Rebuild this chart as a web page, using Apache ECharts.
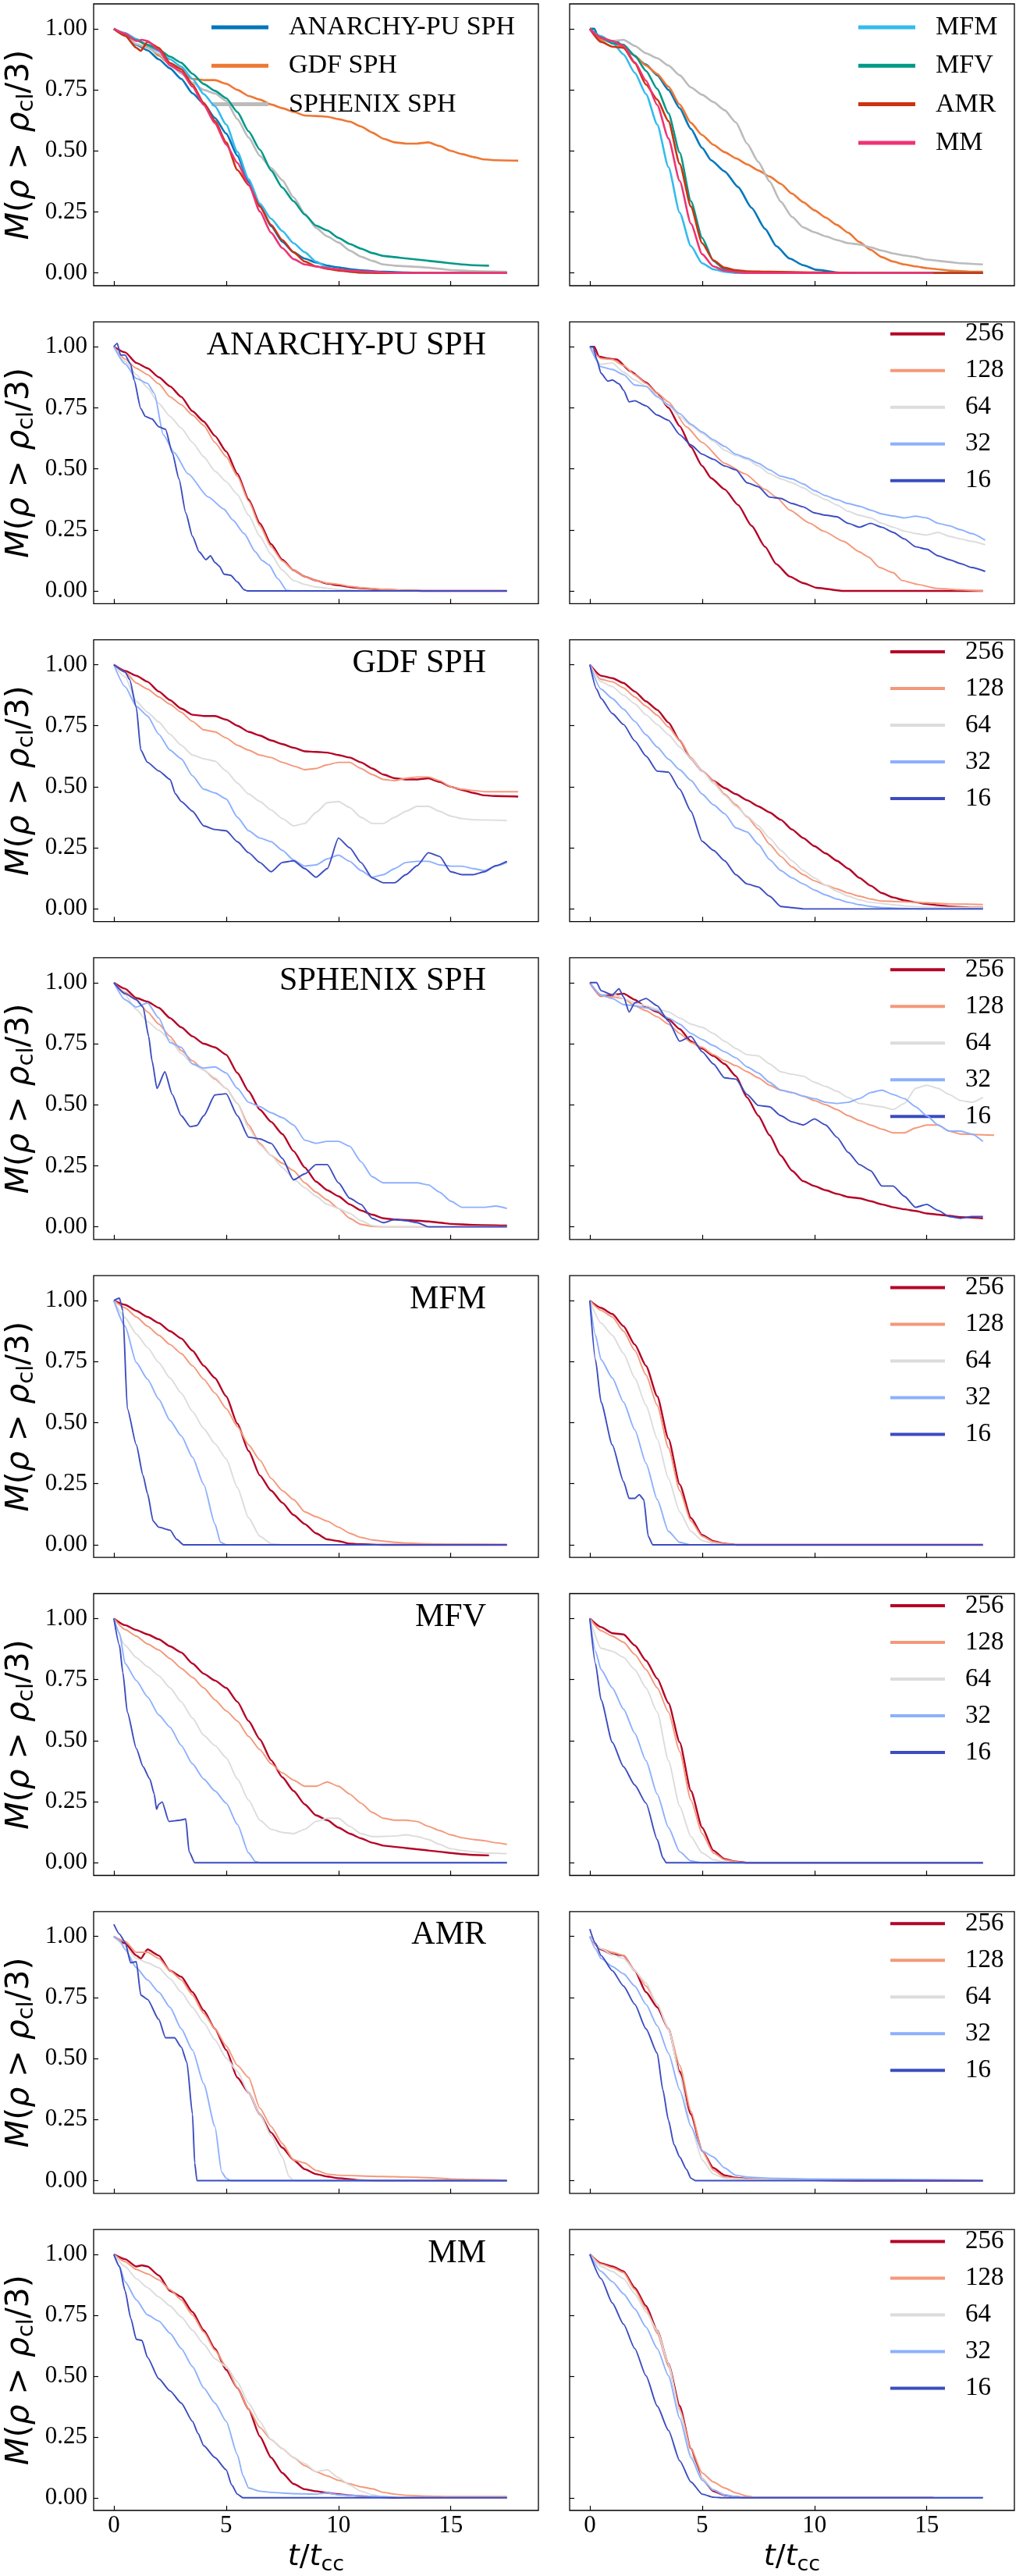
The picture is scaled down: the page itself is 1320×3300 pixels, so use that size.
<!DOCTYPE html>
<html>
<head>
<meta charset="utf-8">
<script src="https://cdn.jsdelivr.net/npm/echarts@6/dist/echarts.min.js"></script>
<style>
  html, body { margin: 0; background: #fff; }
  #chart { width: 1320px; height: 3300px; }
</style>
</head>
<body>
<div id="chart"></div>
<script>
// ---- data: [t/tcc, M(rho > rho_cl/3)] ----
// ANARCHY-PU SPH
const anarchyL256 = [[0,1],[0.5,0.977],[1,0.934],[1.5,0.912],[2,0.875],[2.5,0.838],[3,0.795],[3.5,0.736],[4,0.694],[4.5,0.635],[5,0.571],[5.5,0.48],[6,0.374],[6.5,0.277],[7,0.192],[7.5,0.128],[8,0.085],[8.5,0.059],[9,0.043],[9.5,0.03],[10,0.023],[10.5,0.016],[11,0.011],[12,0.005],[13,0.002],[14,0],[17.5,0]];
const anarchyL128 = [[0,1],[0.5,0.95],[1,0.912],[1.5,0.886],[2,0.848],[2.5,0.795],[3,0.763],[3.5,0.72],[4,0.678],[4.5,0.608],[5,0.55],[5.5,0.47],[6,0.368],[6.5,0.267],[7,0.181],[7.5,0.123],[8,0.085],[8.5,0.059],[9,0.043],[9.5,0.032],[10,0.027],[10.5,0.019],[11,0.013],[12,0.006],[13,0.003],[14,0],[17.5,0]];
const anarchyL64 = [[0,1],[0.5,0.94],[1,0.886],[1.5,0.832],[2,0.768],[2.5,0.715],[3,0.667],[3.5,0.608],[4,0.55],[4.5,0.491],[5,0.448],[5.5,0.395],[6,0.31],[6.5,0.224],[7,0.149],[7.5,0.085],[8,0.043],[8.5,0.027],[9,0.016],[9.5,0.011],[10,0.006],[11,0.002],[12,0],[17.5,0]];
const anarchyL32 = [[0,1],[0.5,0.93],[1,0.87],[1.5,0.85],[1.8,0.81],[2.2,0.64],[2.7,0.565],[3.3,0.48],[4.2,0.385],[4.9,0.335],[5.3,0.29],[5.8,0.235],[6.3,0.16],[6.6,0.125],[6.9,0.107],[7.3,0.05],[7.7,0.002],[8,0],[17.5,0]];
const anarchyL16 = [[0,1],[0.15,1.014],[0.3,0.966],[0.5,0.966],[0.75,0.928],[0.9,0.864],[1.2,0.747],[1.4,0.715],[1.7,0.704],[2,0.672],[2.3,0.662],[2.6,0.566],[2.9,0.459],[3.2,0.32],[3.5,0.224],[3.8,0.16],[4.1,0.128],[4.3,0.144],[4.5,0.117],[4.7,0.101],[4.9,0.069],[5.2,0.064],[5.5,0.037],[5.8,0.005],[5.95,0],[17.5,0]];
const anarchyR256 = [[0,1],[0.2,1],[0.4,0.96],[0.8,0.952],[1.2,0.948],[1.8,0.9],[2.5,0.854],[3,0.81],[3.5,0.75],[4,0.675],[4.5,0.59],[5,0.512],[5.4,0.462],[6,0.416],[6.6,0.352],[7.2,0.267],[7.8,0.181],[8.3,0.11],[8.9,0.059],[9.5,0.032],[10.1,0.013],[11.3,0],[17.5,0]];
const anarchyR128 = [[0,1],[0.5,0.952],[1,0.948],[1.5,0.923],[2,0.886],[2.5,0.85],[3,0.81],[3.5,0.774],[4.3,0.672],[5,0.608],[6,0.523],[6.9,0.48],[7.8,0.416],[8.3,0.384],[8.9,0.331],[9.8,0.277],[10.4,0.245],[11.3,0.203],[12,0.16],[12.4,0.139],[12.9,0.096],[13.5,0.075],[13.9,0.043],[14.6,0.027],[15.4,0.011],[16.4,0.005],[17.5,0]];
const anarchyR64 = [[0,1],[0.5,0.928],[1,0.934],[1.5,0.896],[2,0.864],[2.5,0.838],[3,0.8],[3.5,0.758],[4,0.715],[4.5,0.678],[5,0.646],[5.5,0.614],[6,0.576],[6.5,0.555],[7,0.539],[7.5,0.512],[8,0.48],[8.5,0.459],[9,0.443],[9.5,0.422],[10,0.395],[10.5,0.374],[11,0.352],[11.5,0.326],[12,0.31],[12.5,0.299],[13,0.277],[13.5,0.261],[14,0.245],[14.5,0.235],[15,0.229],[15.5,0.24],[16,0.224],[16.5,0.213],[17,0.203],[17.6,0.189]];
const anarchyR32 = [[0,1],[0.5,0.918],[1,0.907],[1.5,0.886],[2,0.843],[2.5,0.838],[3,0.795],[3.5,0.763],[4,0.726],[4.5,0.683],[5,0.651],[5.5,0.619],[6,0.592],[6.5,0.56],[7,0.544],[7.5,0.523],[8,0.496],[8.5,0.47],[9,0.459],[9.5,0.438],[10,0.411],[10.5,0.39],[11,0.374],[11.5,0.358],[12,0.347],[12.5,0.331],[13,0.315],[13.5,0.307],[14,0.299],[14.5,0.306],[15,0.299],[15.5,0.277],[16,0.267],[16.5,0.251],[17,0.235],[17.6,0.208]];
const anarchyR16 = [[0,1],[0.15,1],[0.3,0.95],[0.5,0.891],[0.8,0.859],[1,0.864],[1.3,0.848],[1.5,0.822],[1.75,0.774],[2,0.779],[2.5,0.758],[3,0.72],[3.5,0.699],[4,0.64],[4.5,0.598],[5,0.56],[5.5,0.539],[6,0.512],[6.5,0.496],[7,0.443],[7.5,0.427],[8,0.384],[8.5,0.379],[9,0.358],[9.5,0.344],[10,0.32],[10.5,0.31],[11,0.304],[11.5,0.277],[12,0.261],[12.5,0.277],[13,0.261],[13.5,0.24],[14,0.213],[14.5,0.181],[15,0.171],[15.5,0.144],[16,0.128],[16.5,0.112],[17,0.096],[17.6,0.08]];
// GDF SPH
const gdfL256 = [[0,1],[0.5,0.975],[1,0.955],[1.5,0.93],[2,0.89],[2.5,0.855],[3,0.82],[3.5,0.795],[4,0.79],[4.5,0.79],[5,0.775],[5.5,0.75],[6,0.725],[6.5,0.71],[7,0.69],[7.5,0.675],[8,0.66],[8.5,0.645],[9,0.643],[9.5,0.64],[10,0.63],[10.5,0.62],[11,0.6],[11.5,0.575],[12,0.55],[12.5,0.535],[13,0.53],[13.5,0.53],[14,0.535],[14.5,0.52],[15,0.5],[15.5,0.487],[16,0.475],[16.5,0.465],[17,0.462],[18,0.46]];
const gdfL128 = [[0,1],[0.5,0.97],[1,0.925],[1.5,0.9],[2,0.868],[2.5,0.838],[3,0.805],[3.5,0.768],[4,0.733],[4.5,0.725],[5,0.7],[5.5,0.67],[6,0.65],[6.5,0.63],[7,0.62],[7.5,0.6],[8,0.585],[8.5,0.57],[9,0.575],[9.5,0.59],[10,0.6],[10.5,0.6],[11,0.575],[11.5,0.55],[12,0.53],[12.5,0.525],[13,0.535],[13.5,0.54],[14,0.54],[14.5,0.525],[15,0.5],[15.5,0.49],[16,0.485],[16.5,0.48],[18,0.48]];
const gdfL64 = [[0,1],[0.5,0.95],[1,0.85],[1.5,0.805],[2,0.765],[2.5,0.715],[3,0.67],[3.5,0.63],[4,0.615],[4.5,0.605],[5,0.565],[5.5,0.515],[6,0.47],[6.5,0.44],[7,0.405],[7.5,0.37],[8,0.34],[8.5,0.35],[9,0.395],[9.5,0.435],[10,0.44],[10.5,0.415],[11,0.375],[11.5,0.35],[12,0.35],[12.5,0.375],[13,0.4],[13.5,0.42],[14,0.42],[14.5,0.4],[15,0.38],[15.5,0.37],[16,0.365],[17.5,0.362]];
const gdfL32 = [[0,1],[0.5,0.91],[1,0.83],[1.5,0.79],[2,0.715],[2.5,0.65],[3,0.615],[3.5,0.545],[4,0.49],[4.5,0.475],[5,0.45],[5.5,0.375],[6,0.32],[6.5,0.29],[7,0.275],[7.5,0.24],[8,0.2],[8.5,0.175],[9,0.18],[9.5,0.205],[10,0.22],[10.5,0.195],[11,0.157],[11.5,0.13],[12,0.14],[12.5,0.165],[13,0.19],[13.5,0.195],[14,0.195],[14.5,0.18],[15,0.175],[15.5,0.175],[16,0.165],[16.5,0.157],[17,0.175],[17.5,0.19]];
const gdfL16 = [[0,1],[0.5,0.97],[0.7,0.94],[1,0.825],[1.2,0.65],[1.5,0.6],[2,0.565],[2.5,0.53],[2.75,0.47],[3,0.44],[3.5,0.4],[4,0.34],[4.5,0.325],[5,0.32],[5.5,0.275],[6,0.23],[6.5,0.19],[7,0.152],[7.5,0.19],[8,0.197],[8.5,0.165],[9,0.13],[9.5,0.165],[10,0.29],[10.5,0.25],[11,0.19],[11.5,0.127],[12,0.107],[12.5,0.107],[13,0.14],[13.5,0.177],[14,0.23],[14.5,0.215],[15,0.152],[15.5,0.14],[16,0.14],[16.5,0.152],[17,0.177],[17.5,0.195]];
const gdfR256 = [[0,1],[0.5,0.955],[1,0.945],[1.5,0.925],[2,0.89],[2.5,0.85],[3,0.815],[3.5,0.763],[4,0.69],[4.5,0.615],[5,0.565],[5.5,0.525],[6,0.495],[6.5,0.47],[7,0.445],[7.5,0.42],[8,0.395],[8.5,0.365],[9,0.325],[9.5,0.29],[10,0.257],[10.5,0.227],[11,0.197],[11.5,0.165],[12,0.127],[12.5,0.095],[13,0.065],[13.5,0.047],[14,0.035],[14.5,0.027],[15,0.02],[15.5,0.015],[16,0.01],[17,0.005],[17.5,0.005]];
const gdfR128 = [[0,1],[0.5,0.94],[1,0.93],[1.5,0.905],[2,0.868],[2.5,0.83],[3,0.793],[3.5,0.745],[4,0.69],[4.5,0.62],[5,0.565],[5.5,0.525],[6,0.47],[6.5,0.427],[7,0.377],[7.5,0.327],[8,0.265],[8.5,0.215],[9,0.172],[9.5,0.14],[10,0.115],[10.5,0.097],[11,0.082],[11.5,0.065],[12,0.052],[12.5,0.04],[13,0.032],[14.5,0.027],[15,0.025],[16,0.02],[17.5,0.018]];
const gdfR64 = [[0,1],[0.5,0.93],[1,0.91],[1.5,0.875],[2,0.84],[2.5,0.795],[3,0.755],[3.5,0.713],[4,0.663],[4.5,0.615],[5,0.565],[5.5,0.515],[6,0.465],[6.5,0.42],[7,0.38],[7.5,0.34],[8,0.29],[8.5,0.24],[9,0.197],[9.5,0.157],[10,0.127],[10.5,0.097],[11,0.072],[11.5,0.052],[12,0.037],[12.5,0.027],[13,0.022],[13.5,0.017],[14,0.012],[15,0.007],[17.5,0.005]];
const gdfR32 = [[0,1],[0.5,0.9],[1,0.862],[1.5,0.818],[2,0.768],[2.5,0.713],[3,0.663],[3.5,0.613],[4,0.57],[4.5,0.526],[5,0.47],[5.5,0.426],[6,0.39],[6.5,0.332],[7,0.315],[7.5,0.265],[8,0.202],[8.5,0.157],[9,0.127],[9.5,0.102],[10,0.077],[10.5,0.057],[11,0.04],[11.5,0.027],[12,0.017],[12.5,0.01],[13,0.005],[14,0.002],[15,0],[17.5,0]];
const gdfR16 = [[0,1],[0.3,0.9],[0.5,0.862],[1,0.8],[1.5,0.755],[2,0.688],[2.5,0.626],[3,0.564],[3.5,0.56],[4,0.49],[4.5,0.4],[5,0.277],[5.5,0.24],[6,0.197],[6.5,0.14],[7,0.102],[7.5,0.09],[8,0.052],[8.5,0.01],[9,0.005],[9.5,0],[17.5,0]];
// SPHENIX SPH
const sphenixL256 = [[0,1],[0.5,0.975],[1,0.937],[1.5,0.922],[2,0.897],[2.5,0.855],[3,0.817],[3.5,0.78],[4,0.75],[4.5,0.735],[5,0.705],[5.5,0.63],[6,0.555],[6.5,0.48],[7,0.43],[7.5,0.38],[8,0.31],[8.5,0.243],[9,0.185],[9.5,0.15],[10,0.125],[10.5,0.092],[11,0.067],[11.5,0.05],[12,0.035],[12.5,0.03],[13.5,0.025],[14,0.022],[14.5,0.017],[15,0.012],[16,0.008],[17.5,0.005]];
const sphenixL128 = [[0,1],[0.5,0.96],[1,0.93],[1.5,0.88],[2,0.83],[2.5,0.78],[3,0.722],[3.5,0.68],[4,0.642],[4.5,0.605],[5,0.567],[5.5,0.505],[6,0.417],[6.5,0.342],[7,0.292],[7.5,0.26],[8,0.23],[8.5,0.18],[9,0.142],[9.5,0.11],[10,0.075],[10.5,0.035],[11,0.01],[11.5,0.002],[12,0],[17.5,0]];
const sphenixL64 = [[0,1],[0.5,0.95],[1,0.89],[1.5,0.84],[2,0.805],[2.5,0.767],[3,0.71],[3.5,0.667],[4,0.642],[4.5,0.61],[5,0.567],[5.5,0.505],[6,0.405],[6.5,0.335],[7,0.292],[7.5,0.243],[8,0.197],[8.5,0.16],[9,0.125],[9.5,0.092],[10,0.075],[10.5,0.055],[11,0.025],[11.5,0.005],[12,0],[17.5,0]];
const sphenixL32 = [[0,1],[0.5,0.93],[1,0.9],[1.5,0.917],[2,0.855],[2.5,0.755],[3,0.735],[3.5,0.667],[4,0.65],[4.5,0.655],[5,0.63],[5.5,0.567],[6,0.51],[6.5,0.492],[7,0.467],[7.5,0.447],[8,0.417],[8.5,0.355],[9,0.342],[9.5,0.35],[10,0.35],[10.5,0.33],[11,0.267],[11.5,0.205],[12,0.18],[13.5,0.18],[14,0.172],[14.5,0.142],[15,0.105],[15.5,0.08],[16.5,0.08],[17,0.085],[17.5,0.075]];
const sphenixL16 = [[0,1],[0.5,0.955],[1,0.93],[1.3,0.9],[1.55,0.78],[1.7,0.68],[1.92,0.567],[2.27,0.635],[2.6,0.542],[3,0.455],[3.4,0.41],[3.7,0.415],[4,0.455],[4.5,0.54],[5,0.545],[5.5,0.455],[6,0.367],[6.5,0.36],[7,0.342],[7.5,0.28],[8,0.192],[8.5,0.217],[9,0.255],[9.5,0.255],[10,0.18],[10.5,0.117],[11,0.092],[11.5,0.035],[12,0.017],[12.5,0.03],[13,0.025],[13.5,0.017],[14,0],[17.5,0]];
const sphenixR256 = [[0,1],[0.5,0.945],[1,0.95],[1.5,0.955],[2,0.93],[2.5,0.9],[3,0.88],[3.5,0.85],[4,0.81],[4.5,0.76],[5,0.73],[5.5,0.7],[6,0.667],[6.5,0.617],[7,0.53],[7.5,0.455],[8,0.375],[8.5,0.292],[9,0.23],[9.5,0.187],[10,0.167],[10.5,0.15],[11,0.135],[11.5,0.122],[12,0.117],[12.5,0.105],[13,0.092],[13.5,0.08],[14,0.072],[14.5,0.065],[15,0.055],[15.5,0.05],[16,0.045],[16.5,0.04],[17.5,0.035]];
const sphenixR128 = [[0,1],[0.5,0.945],[1,0.942],[1.5,0.935],[2,0.905],[2.5,0.885],[3,0.86],[3.5,0.83],[4,0.792],[4.5,0.755],[5,0.735],[5.5,0.705],[6,0.68],[6.5,0.66],[7,0.635],[7.5,0.61],[8,0.58],[8.5,0.56],[9,0.55],[9.5,0.535],[10,0.517],[10.5,0.5],[11,0.48],[11.5,0.455],[12,0.435],[12.5,0.417],[13,0.4],[13.5,0.385],[14,0.385],[14.5,0.405],[15,0.417],[15.5,0.417],[16,0.392],[16.5,0.38],[18,0.375]];
const sphenixR64 = [[0,1],[0.5,0.95],[1,0.955],[1.5,0.935],[2,0.917],[2.5,0.905],[3,0.892],[3.5,0.88],[4,0.855],[4.5,0.83],[5,0.817],[5.5,0.792],[6,0.76],[6.5,0.73],[7,0.705],[7.5,0.7],[8,0.667],[8.5,0.635],[9,0.625],[9.5,0.617],[10,0.592],[10.5,0.575],[11,0.555],[11.5,0.53],[12,0.505],[13,0.492],[13.5,0.48],[14,0.505],[14.5,0.567],[15,0.58],[15.5,0.567],[16,0.542],[16.5,0.517],[17,0.51],[17.5,0.53]];
const sphenixR32 = [[0,1],[0.5,0.95],[1,0.935],[1.5,0.91],[2,0.905],[2.5,0.897],[3,0.885],[3.5,0.855],[4,0.83],[4.5,0.792],[5,0.767],[5.5,0.742],[6,0.717],[6.5,0.692],[7,0.655],[7.5,0.63],[8,0.592],[8.5,0.56],[9,0.55],[9.5,0.535],[10,0.525],[10.5,0.51],[11,0.505],[11.5,0.51],[12,0.525],[12.5,0.55],[13,0.56],[13.5,0.542],[14,0.525],[14.5,0.492],[15,0.455],[15.5,0.417],[16,0.392],[16.5,0.392],[17,0.38],[17.5,0.35]];
const sphenixR16 = [[0,1],[0.3,1],[0.5,0.967],[1,0.95],[1.3,0.975],[1.5,0.942],[1.75,0.88],[2,0.917],[2.5,0.935],[3,0.905],[3.5,0.842],[4,0.76],[4.5,0.78],[5,0.717],[5.5,0.667],[6,0.61],[6.5,0.605],[7,0.542],[7.5,0.497],[8,0.492],[8.5,0.455],[9,0.43],[9.5,0.417],[10,0.442],[10.5,0.417],[11,0.367],[11.5,0.305],[12,0.255],[12.5,0.23],[13,0.167],[13.5,0.167],[14,0.125],[14.5,0.08],[15,0.092],[15.5,0.067],[16,0.042],[16.5,0.035],[17,0.042],[17.5,0.042]];
// MFM
const mfmL256 = [[0,1],[0.5,0.983],[1,0.958],[1.5,0.933],[2,0.908],[2.5,0.875],[3,0.845],[3.5,0.795],[4,0.733],[4.5,0.683],[5,0.608],[5.5,0.496],[6,0.384],[6.5,0.284],[7,0.222],[7.5,0.172],[8,0.122],[8.5,0.085],[9,0.047],[9.5,0.022],[10,0.015],[10.5,0.005],[11,0.002],[12,0],[17.5,0]];
const mfmL128 = [[0,1],[0.5,0.97],[1,0.933],[1.5,0.895],[2,0.858],[2.5,0.82],[3,0.783],[3.5,0.733],[4,0.678],[4.5,0.621],[5,0.558],[5.5,0.484],[6,0.409],[6.5,0.347],[7,0.272],[7.5,0.222],[8,0.185],[8.5,0.135],[9,0.115],[9.5,0.097],[10,0.072],[10.5,0.047],[11,0.03],[11.5,0.02],[12,0.015],[12.5,0.01],[13,0.007],[14,0.004],[15,0.002],[17.5,0]];
const mfmL64 = [[0,1],[0.5,0.93],[1,0.863],[1.5,0.808],[2,0.746],[2.5,0.683],[3,0.621],[3.5,0.546],[4,0.476],[4.5,0.414],[5,0.352],[5.5,0.234],[6,0.11],[6.5,0.035],[7,0.005],[7.5,0],[17.5,0]];
const mfmL32 = [[0,1],[0.5,0.895],[1,0.746],[1.5,0.678],[2,0.596],[2.5,0.509],[3,0.446],[3.5,0.359],[4,0.247],[4.5,0.085],[4.75,0.01],[5,0],[17.5,0]];
const mfmL16 = [[0,1],[0.25,1.01],[0.4,0.958],[0.6,0.558],[1,0.409],[1.3,0.284],[1.5,0.209],[1.75,0.097],[2,0.072],[2.5,0.06],[2.8,0.022],[3.1,0],[17.5,0]];
const mfmR256 = [[0,1],[0.5,0.97],[1,0.945],[1.5,0.895],[2,0.82],[2.5,0.733],[3,0.608],[3.5,0.434],[4,0.247],[4.5,0.11],[5,0.04],[5.5,0.015],[6,0.005],[6.5,0],[17.5,0]];
const mfmR128 = [[0,1],[0.5,0.96],[1,0.933],[1.5,0.875],[2,0.796],[2.5,0.696],[3,0.571],[3.5,0.397],[4,0.222],[4.5,0.097],[5,0.035],[5.5,0.012],[6,0.004],[6.5,0],[17.5,0]];
const mfmR64 = [[0,1],[0.5,0.908],[1,0.858],[1.5,0.783],[2,0.683],[2.5,0.571],[3,0.434],[3.5,0.272],[4,0.135],[4.5,0.055],[5,0.017],[5.5,0.005],[6,0],[17.5,0]];
const mfmR32 = [[0,1],[0.25,0.858],[0.5,0.758],[1,0.683],[1.5,0.584],[2,0.471],[2.5,0.334],[3,0.185],[3.5,0.055],[4,0.01],[4.5,0],[17.5,0]];
const mfmR16 = [[0,1],[0.25,0.758],[0.5,0.584],[1,0.409],[1.5,0.259],[1.75,0.19],[2,0.19],[2.2,0.205],[2.4,0.185],[2.6,0.035],[2.8,0],[17.5,0]];
// MFV
const mfvL256 = [[0,1],[0.5,0.973],[1,0.953],[1.5,0.935],[2,0.915],[2.5,0.886],[3,0.861],[3.5,0.816],[4,0.774],[4.5,0.746],[5,0.716],[5.5,0.659],[6,0.58],[6.5,0.505],[7,0.42],[7.5,0.35],[8,0.294],[8.5,0.239],[9,0.194],[9.5,0.174],[10,0.144],[10.5,0.119],[11,0.1],[11.5,0.082],[12,0.07],[12.5,0.065],[13,0.06],[13.5,0.055],[14,0.05],[14.5,0.045],[15,0.04],[15.5,0.035],[16,0.032],[16.7,0.03]];
const mfvL128 = [[0,1],[0.5,0.955],[1,0.928],[1.5,0.896],[2,0.871],[2.5,0.836],[3,0.796],[3.5,0.759],[4,0.716],[4.5,0.667],[5,0.622],[5.5,0.58],[6,0.517],[6.5,0.463],[7,0.405],[7.5,0.368],[8,0.338],[8.5,0.313],[9,0.313],[9.5,0.331],[10,0.313],[10.5,0.281],[11,0.244],[11.5,0.206],[12,0.182],[12.5,0.174],[13,0.174],[13.5,0.169],[14,0.149],[14.5,0.132],[15,0.114],[15.5,0.102],[16,0.095],[16.5,0.09],[17,0.082],[17.5,0.075]];
const mfvL64 = [[0,1],[0.5,0.89],[1,0.84],[1.5,0.803],[2,0.766],[2.5,0.716],[3,0.659],[3.5,0.592],[4,0.522],[4.5,0.48],[5,0.43],[5.5,0.343],[6,0.256],[6.5,0.174],[7,0.137],[7.5,0.124],[8,0.119],[8.5,0.137],[9,0.169],[9.5,0.182],[10,0.182],[10.5,0.149],[11,0.119],[11.5,0.107],[12.5,0.109],[13,0.114],[13.5,0.107],[14,0.095],[14.5,0.075],[15,0.057],[15.5,0.05],[16,0.045],[16.5,0.04],[17.5,0.037]];
const mfvL32 = [[0,1],[0.25,0.94],[0.5,0.816],[1,0.746],[1.5,0.679],[2,0.605],[2.5,0.555],[3,0.48],[3.5,0.405],[4,0.343],[4.5,0.294],[5,0.244],[5.5,0.157],[6,0.04],[6.3,0.005],[6.5,0],[17.5,0]];
const mfvL16 = [[0,1],[0.25,0.89],[0.4,0.779],[0.6,0.617],[1,0.468],[1.3,0.393],[1.6,0.343],[1.8,0.281],[1.9,0.219],[2,0.239],[2.15,0.249],[2.45,0.169],[2.95,0.174],[3.2,0.179],[3.35,0.045],[3.6,0],[17.5,0]];
const mfvR256 = [[0,1],[0.5,0.965],[1,0.94],[1.5,0.935],[2,0.89],[2.5,0.828],[3,0.754],[3.5,0.654],[4,0.493],[4.5,0.294],[5,0.144],[5.5,0.05],[6,0.015],[6.5,0.005],[7,0],[17.5,0]];
const mfvR128 = [[0,1],[0.5,0.95],[1,0.928],[1.5,0.903],[2,0.853],[2.5,0.791],[3,0.716],[3.5,0.617],[4,0.455],[4.5,0.256],[5,0.119],[5.5,0.04],[6,0.012],[6.5,0.004],[7,0],[17.5,0]];
const mfvR64 = [[0,1],[0.5,0.878],[1,0.866],[1.5,0.841],[2,0.791],[2.5,0.716],[3,0.617],[3.5,0.418],[4,0.231],[4.5,0.107],[5,0.04],[5.5,0.012],[6,0.003],[6.5,0],[17.5,0]];
const mfvR32 = [[0,1],[0.25,0.866],[0.5,0.791],[1,0.716],[1.5,0.629],[2,0.53],[2.5,0.418],[3,0.281],[3.5,0.144],[4,0.045],[4.5,0.007],[5,0],[17.5,0]];
const mfvR16 = [[0,1],[0.25,0.816],[0.5,0.667],[1,0.493],[1.5,0.393],[2,0.318],[2.5,0.244],[3,0.095],[3.25,0.02],[3.4,0],[17.5,0]];
// AMR
const amrL256 = [[0,1],[0.5,0.972],[1,0.922],[1.2,0.91],[1.5,0.947],[2,0.922],[2.5,0.86],[3,0.835],[3.5,0.772],[4,0.697],[4.5,0.622],[5,0.535],[5.5,0.422],[6,0.36],[6.5,0.272],[7,0.197],[7.5,0.135],[8,0.085],[8.5,0.047],[9,0.027],[9.5,0.017],[10,0.01],[11,0.002],[12,0],[17.5,0]];
const amrL128 = [[0,1],[0.5,0.98],[1,0.935],[1.5,0.935],[2,0.91],[2.5,0.86],[3,0.822],[3.5,0.76],[4,0.685],[4.5,0.622],[5,0.552],[5.5,0.472],[6,0.422],[6.5,0.297],[7,0.222],[7.5,0.152],[8,0.085],[8.5,0.072],[9,0.042],[9.5,0.027],[10,0.022],[12,0.017],[13,0.015],[14,0.012],[15,0.007],[16,0.005],[17.5,0.002]];
const amrL64 = [[0,1],[0.5,0.96],[1,0.91],[1.5,0.892],[2,0.872],[2.5,0.827],[3,0.772],[3.5,0.71],[4,0.647],[4.5,0.577],[5,0.502],[5.5,0.447],[6,0.36],[6.5,0.272],[7,0.185],[7.5,0.097],[7.8,0.017],[8,0],[17.5,0]];
const amrL32 = [[0,1],[0.25,0.985],[0.5,0.947],[1,0.872],[1.5,0.822],[2,0.772],[2.5,0.71],[3,0.622],[3.5,0.535],[4,0.397],[4.5,0.222],[4.8,0.035],[5,0.01],[5.2,0],[17.5,0]];
const amrL16 = [[0,1.05],[0.25,1.01],[0.5,0.977],[0.75,0.892],[1,0.897],[1.2,0.76],[1.5,0.742],[2,0.66],[2.3,0.585],[2.7,0.585],[3,0.547],[3.25,0.485],[3.5,0.272],[3.6,0.072],[3.7,0],[17.5,0]];
const amrR256 = [[0,1],[0.5,0.947],[1,0.927],[1.5,0.922],[2,0.86],[2.5,0.772],[3,0.71],[3.5,0.622],[4,0.447],[4.5,0.272],[5,0.122],[5.5,0.052],[6,0.022],[6.5,0.012],[7,0.007],[8,0.005],[10,0.002],[12,0],[17.5,0]];
const amrR128 = [[0,1],[0.5,0.95],[1,0.935],[1.5,0.922],[2,0.86],[2.5,0.797],[3,0.722],[3.5,0.622],[4,0.472],[4.5,0.285],[5,0.122],[5.5,0.042],[6,0.015],[6.5,0.01],[7,0.007],[9,0.005],[12,0.003],[17.5,0.002]];
const amrR64 = [[0,1],[0.5,0.95],[1,0.925],[1.5,0.91],[2,0.86],[2.5,0.81],[3,0.722],[3.5,0.622],[4,0.435],[4.5,0.222],[5,0.085],[5.5,0.027],[6,0.01],[7,0.005],[9,0.003],[17.5,0.002]];
const amrR32 = [[0,1],[0.25,0.95],[0.5,0.91],[1,0.877],[1.5,0.847],[2,0.797],[2.5,0.722],[3,0.635],[3.5,0.522],[4,0.372],[4.5,0.222],[5,0.122],[5.5,0.097],[6,0.052],[6.5,0.022],[7,0.015],[8,0.01],[10,0.007],[17.5,0.002]];
const amrR16 = [[0,1.03],[0.25,0.972],[0.5,0.922],[1,0.86],[1.5,0.797],[2,0.722],[2.5,0.622],[3,0.522],[3.25,0.372],[3.5,0.247],[3.75,0.147],[4,0.097],[4.3,0.047],[4.5,0.01],[4.7,0],[17.5,0]];
// MM
const mmL256 = [[0,1],[0.5,0.98],[1,0.95],[1.25,0.955],[1.5,0.95],[2,0.913],[2.5,0.85],[3,0.825],[3.5,0.763],[4,0.688],[4.5,0.613],[5,0.526],[5.5,0.451],[6,0.364],[6.5,0.252],[7,0.165],[7.5,0.102],[8,0.057],[8.5,0.035],[9,0.027],[9.5,0.02],[10,0.015],[10.5,0.01],[11,0.007],[11.5,0.005],[12.5,0],[17.5,0]];
const mmL128 = [[0,1],[0.5,0.97],[1,0.938],[1.5,0.92],[2,0.895],[2.5,0.855],[3,0.813],[3.5,0.751],[4,0.681],[4.5,0.606],[5,0.539],[5.5,0.451],[6,0.364],[6.5,0.289],[7,0.239],[7.5,0.202],[8,0.165],[8.5,0.132],[9,0.107],[9.5,0.09],[10,0.072],[10.5,0.057],[11,0.045],[11.5,0.037],[12,0.022],[12.5,0.015],[13,0.01],[14,0.007],[15,0.005],[17.5,0.005]];
const mmL64 = [[0,1],[0.5,0.95],[1,0.9],[1.5,0.863],[2,0.825],[2.5,0.788],[3,0.743],[3.5,0.688],[4,0.631],[4.5,0.571],[5,0.539],[5.5,0.476],[6,0.389],[6.5,0.314],[7,0.239],[7.5,0.202],[8,0.165],[8.5,0.14],[9,0.107],[9.5,0.115],[10,0.082],[10.5,0.052],[11,0.027],[11.5,0.012],[12,0.005],[13,0.002],[14,0],[17.5,0]];
const mmL32 = [[0,1],[0.25,0.95],[0.5,0.888],[1,0.813],[1.5,0.751],[2,0.726],[2.5,0.676],[3,0.613],[3.5,0.539],[4,0.451],[4.5,0.389],[5,0.314],[5.5,0.177],[5.75,0.09],[6,0.04],[6.5,0.027],[7,0.022],[8,0.017],[9,0.015],[9.5,0.02],[10,0.012],[11,0.007],[12,0.004],[13,0],[17.5,0]];
const mmL16 = [[0,1],[0.25,0.95],[0.5,0.85],[0.75,0.738],[1,0.651],[1.25,0.646],[1.5,0.576],[2,0.489],[2.5,0.439],[3,0.389],[3.5,0.314],[3.75,0.264],[4,0.214],[4.5,0.165],[5,0.115],[5.25,0.052],[5.5,0.015],[5.75,0],[17.5,0]];
const mmR256 = [[0,1],[0.5,0.963],[1,0.95],[1.5,0.93],[2,0.863],[2.5,0.788],[3,0.688],[3.5,0.551],[4,0.377],[4.5,0.202],[5,0.077],[5.5,0.027],[6,0.01],[6.5,0.004],[7,0],[15.3,0]];
const mmR128 = [[0,1],[0.5,0.96],[1,0.945],[1.5,0.925],[2,0.855],[2.5,0.776],[3,0.676],[3.5,0.539],[4,0.364],[4.5,0.202],[5,0.102],[5.5,0.065],[6,0.04],[6.5,0.02],[7,0.007],[7.5,0],[15.3,0]];
const mmR64 = [[0,1],[0.5,0.95],[1,0.93],[1.5,0.9],[2,0.838],[2.5,0.763],[3,0.688],[3.5,0.551],[4,0.352],[4.5,0.177],[5,0.077],[5.5,0.032],[6,0.012],[6.5,0.004],[7,0],[17.5,0]];
const mmR32 = [[0,1],[0.5,0.93],[1,0.888],[1.5,0.838],[2,0.776],[2.5,0.701],[3,0.613],[3.5,0.501],[4,0.327],[4.5,0.165],[5,0.072],[5.5,0.032],[6,0.012],[6.5,0.004],[7,0],[17.5,0]];
const mmR16 = [[0,1],[0.5,0.9],[1,0.8],[1.5,0.713],[2,0.613],[2.5,0.501],[3,0.377],[3.5,0.277],[4,0.152],[4.5,0.065],[5,0.015],[5.5,0.002],[6,0],[17.5,0]];

// ---- labels, ticks, colours ----
const methodNames = ['ANARCHY-PU SPH', 'GDF SPH', 'SPHENIX SPH', 'MFM', 'MFV', 'AMR', 'MM'];
const methodColors = ['#0077bb', '#ee7733', '#bbbbbb', '#33bbee', '#009988', '#cc3311', '#ee3377'];
const resNames = ['256', '128', '64', '32', '16'];
const resColors = ['#b40426', '#f4987a', '#dcdcdc', '#8db0fe', '#3b4cc0'];
const xTicks = [0, 5, 10, 15];
const yTicks = [0, 0.25, 0.5, 0.75, 1];

const rows = [
  { title: 'ANARCHY-PU SPH', L: [anarchyL256, anarchyL128, anarchyL64, anarchyL32, anarchyL16], R: [anarchyR256, anarchyR128, anarchyR64, anarchyR32, anarchyR16] },
  { title: 'GDF SPH', L: [gdfL256, gdfL128, gdfL64, gdfL32, gdfL16], R: [gdfR256, gdfR128, gdfR64, gdfR32, gdfR16] },
  { title: 'SPHENIX SPH', L: [sphenixL256, sphenixL128, sphenixL64, sphenixL32, sphenixL16], R: [sphenixR256, sphenixR128, sphenixR64, sphenixR32, sphenixR16] },
  { title: 'MFM', L: [mfmL256, mfmL128, mfmL64, mfmL32, mfmL16], R: [mfmR256, mfmR128, mfmR64, mfmR32, mfmR16] },
  { title: 'MFV', L: [mfvL256, mfvL128, mfvL64, mfvL32, mfvL16], R: [mfvR256, mfvR128, mfvR64, mfvR32, mfvR16] },
  { title: 'AMR', L: [amrL256, amrL128, amrL64, amrL32, amrL16], R: [amrR256, amrR128, amrR64, amrR32, amrR16] },
  { title: 'MM', L: [mmL256, mmL128, mmL64, mmL32, mmL16], R: [mmR256, mmR128, mmR64, mmR32, mmR16] },
];

// ---- layout ----
const COL_LEFT = [120, 730];
const GRID_W = 570, GRID_H = 361;
const ROW_TOP = 5, ROW_STEP = 407.3;
const NROWS = 8;
const SERIF = 'Liberation Serif';
const SANS = 'DejaVu Sans';

const chart = echarts.init(document.getElementById('chart'));

const grids = [], xAxes = [], yAxes = [], series = [], titles = [], legends = [];

const legendTop = { fontFamily: SERIF, fontSize: 34, color: '#000', lineHeight: 34, padding: [0, 0, 0, 21] };
const legendRes = { fontFamily: SERIF, fontSize: 33, color: '#000', lineHeight: 33, padding: [0, 0, 0, 21] };

for (let r = 0; r < NROWS; r++) {
  const top = ROW_TOP + r * ROW_STEP;
  const isBottom = r === NROWS - 1;
  for (let c = 0; c < 2; c++) {
    const p = r * 2 + c;
    grids.push({
      left: COL_LEFT[c], top: top, width: GRID_W, height: GRID_H,
      show: true, borderColor: '#000', borderWidth: 1.3, backgroundColor: 'transparent'
    });
    xAxes.push({
      gridIndex: p, type: 'value', min: -0.9, max: 18.9,
      axisLine: { show: false, onZero: false },
      splitLine: { show: false },
      axisTick: { show: true, inside: true, length: 6, customValues: xTicks, lineStyle: { color: '#000', width: 1.2 } },
      axisLabel: { show: isBottom, customValues: xTicks, fontFamily: SERIF, fontSize: 31, color: '#000', margin: 4 },
      name: isBottom ? '{i|t}{n|/}{i|t}{s|cc}' : '',
      nameLocation: 'middle', nameGap: 37,
      nameTextStyle: {
        color: '#000', fontFamily: SANS, fontSize: 38,
        rich: {
          i: { fontFamily: SANS, fontStyle: 'italic', fontSize: 38, lineHeight: 46, verticalAlign: 'middle', color: '#000' },
          n: { fontFamily: SANS, fontSize: 38, lineHeight: 46, verticalAlign: 'middle', color: '#000' },
          s: { fontFamily: SANS, fontSize: 27, lineHeight: 27, verticalAlign: 'bottom', color: '#000' }
        }
      }
    });
    yAxes.push({
      gridIndex: p, type: 'value', min: -0.052, max: 1.102,
      axisLine: { show: false, onZero: false },
      splitLine: { show: false },
      axisTick: { show: true, inside: true, length: 6, customValues: yTicks, lineStyle: { color: '#000', width: 1.2 } },
      axisLabel: { show: c === 0, customValues: yTicks, formatter: v => v.toFixed(2), fontFamily: SERIF, fontSize: 31, color: '#000', margin: 8 },
      name: c === 0 ? '{i|M}{n|(}{i|ρ}{n| > }{i|ρ}{s|cl}{n|/3)}' : '',
      nameLocation: 'middle', nameGap: 71,
      nameTextStyle: {
        color: '#000', fontFamily: SANS, fontSize: 41,
        rich: {
          i: { fontFamily: SANS, fontStyle: 'italic', fontSize: 41, lineHeight: 48, verticalAlign: 'middle', color: '#000' },
          n: { fontFamily: SANS, fontSize: 41, lineHeight: 48, verticalAlign: 'middle', color: '#000' },
          s: { fontFamily: SANS, fontSize: 29, lineHeight: 29, verticalAlign: 'bottom', color: '#000' }
        }
      }
    });

    if (r === 0) {
      // summary panels: highest resolution run of every method
      methodNames.forEach((name, m) => {
        series.push({
          type: 'line', name: name, xAxisIndex: p, yAxisIndex: p,
          data: c === 0 ? rows[m].L[0] : rows[m].R[0],
          color: methodColors[m],
          lineStyle: { color: methodColors[m], width: 2.6 },
          showSymbol: false, symbol: 'none', smooth: 0.2, smoothMonotone: 'x', z: 2 + m
        });
      });
    } else {
      const row = rows[r - 1];
      const sets = c === 0 ? row.L : row.R;
      resNames.forEach((name, k) => {
        series.push({
          type: 'line', name: name, xAxisIndex: p, yAxisIndex: p,
          data: sets[k],
          color: resColors[k],
          lineStyle: { color: resColors[k], width: k === 0 ? 2.4 : 1.9 },
          showSymbol: false, symbol: 'none', smooth: 0.2, smoothMonotone: 'x', z: 2 + k
        });
      });
      if (c === 0) {
        titles.push({
          text: row.title, right: 1320 - 623, top: top + 9.5, padding: 0,
          textStyle: { fontFamily: SERIF, fontSize: 42, fontWeight: 'normal', color: '#000', lineHeight: 42 }
        });
      } else {
        legends.push({
          data: resNames, orient: 'vertical', left: 1141, top: top - 1.1, padding: 0,
          icon: 'rect', itemWidth: 70, itemHeight: 4, itemGap: 14, selectedMode: false,
          textStyle: legendRes
        });
      }
    }
  }
}

legends.unshift(
  { data: methodNames.slice(0, 3), orient: 'vertical', left: 271, top: 18, padding: 0, icon: 'rect',
    itemWidth: 73, itemHeight: 5, itemGap: 15.3, selectedMode: false, textStyle: legendTop },
  { data: methodNames.slice(3), orient: 'vertical', left: 1100, top: 18, padding: 0, icon: 'rect',
    itemWidth: 73, itemHeight: 5, itemGap: 15.3, selectedMode: false, textStyle: legendTop }
);

chart.setOption({
  animation: false,
  backgroundColor: '#fff',
  title: titles,
  legend: legends,
  grid: grids,
  xAxis: xAxes,
  yAxis: yAxes,
  series: series
});
</script>
</body>
</html>
